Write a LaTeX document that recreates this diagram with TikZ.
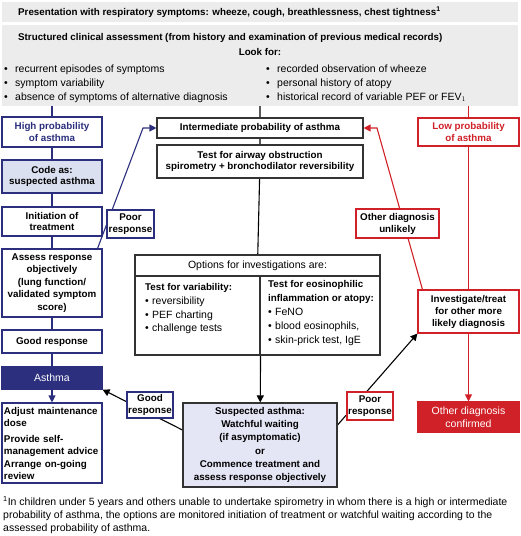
\documentclass[tikz,border=0pt]{standalone}
\usepackage{fontspec}
\setmainfont{Liberation Sans}
\usetikzlibrary{arrows.meta,backgrounds}

\definecolor{navy}{RGB}{43,47,125}
\definecolor{alarm}{RGB}{208,33,40}
\definecolor{bandgray}{RGB}{236,236,236}
\definecolor{codefill}{RGB}{219,224,240}
\definecolor{suspfill}{RGB}{228,229,245}

\newcommand*{\bul}{\makebox[11pt][l]{\textbullet}}
\newcommand*{\sbul}{\makebox[7pt][l]{\textbullet}}
\newcommand*{\hd}[1]{{\fontsize{9.8}{13.5}\selectfont\bfseries #1}}

\begin{document}
\begin{tikzpicture}
[
	x=1pt,
	y=-1pt,
	font=\fontsize{10.5}{13.5}\selectfont,
	band/.style={fill=bandgray,inner sep=0pt},
	txt/.style={inner sep=0pt,align=left},
	bold/.style={font=\fontsize{9.8}{#1}\selectfont\bfseries},
	bold/.default=11.5,
	box/.style={draw,line width=1.1pt,fill=white,align=center,inner sep=1pt,bold},
	bluebox/.style={box,draw=navy},
	redbox/.style={box,draw=alarm},
	blackbox/.style={box,draw=black!80},
	link/.style={line width=1.1pt},
	tip/.style={-{Triangle[length=7pt,width=7pt]}},
]
	\useasboundingbox (0,0) rectangle (520,536);

	% top bands
	\node[band,minimum width=516pt,minimum height=20pt] (present) at (260,12) {};
	\node[txt,anchor=west,bold] (presenttext) at (18,12)
	  {Presentation with respiratory symptoms: wheeze, cough, breathlessness, chest tightness\textsuperscript{1}};

	\node[band,minimum width=516pt,minimum height=81pt] (assess) at (260,65.5) {};
	\node[txt,anchor=west,bold] (assesstext) at (18,38)
	  {Structured clinical assessment (from history and examination of previous medical records)};
	\node[txt,bold] (lookfor) at (260,52) {Look for:};
	\node[txt,anchor=north west,font=\fontsize{10.5}{14}\selectfont] (lookleft) at (4,64.5)
	  {\bul recurrent episodes of symptoms\\
	   \bul symptom variability\\
	   \bul absence of symptoms of alternative diagnosis};
	\node[txt,anchor=north west,font=\fontsize{10.5}{14}\selectfont] (lookright) at (266,64.5)
	  {\bul recorded observation of wheeze\\
	   \bul personal history of atopy\\
	   \bul historical record of variable PEF or FEV$_1$};

	% left column: high probability
	\node[bluebox,text=navy,minimum width=100pt,minimum height=30pt] (high) at (52,132) {High probability\\of asthma};
	\node[bluebox,fill=codefill,minimum width=100pt,minimum height=33pt] (code) at (52,176.5) {Code as:\\suspected asthma};
	\node[bluebox,minimum width=100pt,minimum height=29pt] (init) at (52,221.5) {Initiation of\\treatment};
	\node[bluebox,minimum width=100pt,minimum height=68pt,bold=12.5] (assessresp) at (52,283)
	  {Assess response\\objectively\\(lung function/\\validated symptom\\score)};
	\node[bluebox,minimum width=100pt,minimum height=23pt] (good) at (52,341.5) {Good response};
	\node[bluebox,fill=navy,text=white,minimum width=100pt,minimum height=22pt,font=\fontsize{10.5}{12}\selectfont] (asthma) at (52,378) {Asthma};
	\node[bluebox,align=left,text width=96pt,inner xsep=2pt,minimum height=80pt,bold=12] (adjust) at (52,443)
	  {Adjust maintenance\\dose\\[4pt]Provide self-\\management advice\\[1pt]Arrange on-going\\review};
	\node[bluebox,minimum width=47pt,minimum height=28pt,bold=12] (poorL) at (130.5,224) {Poor\\response};

	% centre column: intermediate probability
	\node[blackbox,minimum width=206pt,minimum height=20pt] (inter) at (260,128) {Intermediate probability of asthma};
	\node[blackbox,minimum width=206pt,minimum height=33pt] (airway) at (260,161.5)
	  {Test for airway obstruction\\spirometry + bronchodilator reversibility};
	\node[blackbox,minimum width=245pt,minimum height=21pt,font=\fontsize{10.5}{12}\selectfont] (opthead) at (257.5,265.5) {Options for investigations are:};
	\node[blackbox,minimum width=125pt,minimum height=79pt] (optleft) at (197.5,315.5) {};
	\node[blackbox,minimum width=120pt,minimum height=79pt] (optright) at (320,315.5) {};
	\node[txt,anchor=north west] (vartext) at (145,283)
	  {\hd{Test for variability:}\\[1pt]
	   \sbul reversibility\\
	   \sbul PEF charting\\
	   \sbul challenge tests};
	\node[txt,anchor=north west,font=\fontsize{10.5}{14}\selectfont] (eostext) at (268,280)
	  {\hd{Test for eosinophilic}\\
	   \hd{inflammation or atopy:}\\
	   \sbul FeNO\\
	   \sbul blood eosinophils,\\
	   \sbul skin-prick test, IgE};
	\node[blackbox,fill=suspfill,minimum width=154pt,minimum height=84pt,bold=13.2] (susp) at (260,445)
	  {Suspected asthma:\\Watchful waiting\\(if asymptomatic)\\or\\Commence treatment and\\assess response objectively};
	\node[bluebox,minimum width=46pt,minimum height=26pt,bold=12] (goodB) at (150,405) {Good\\response};
	\node[redbox,minimum width=46pt,minimum height=28pt,bold=12] (poorR) at (370,406) {Poor\\response};

	% right column: low probability
	\node[redbox,text=alarm,minimum width=101pt,minimum height=28pt] (low) at (468.5,132) {Low probability\\of asthma};
	\node[redbox,minimum width=101pt,minimum height=43pt,bold=12] (invest) at (468.5,311.5)
	  {Investigate/treat\\for other more\\likely diagnosis};
	\node[redbox,fill=alarm,text=white,minimum width=101pt,minimum height=30pt,font=\fontsize{10.5}{12.5}\selectfont] (confirmed) at (468.5,417)
	  {Other diagnosis\\confirmed};
	\node[redbox,minimum width=83pt,minimum height=29pt,bold=12] (unlikely) at (397.5,223.5)
	  {Other diagnosis\\unlikely};

	% footnote
	\node[txt,anchor=north west,font=\fontsize{10.5}{12.8}\selectfont] (footnote) at (3,496.5)
	  {\textsuperscript{1}In children under 5 years and others unable to undertake spirometry in whom there is a high or intermediate\\
	   probability of asthma, the options are monitored initiation of treatment or watchful waiting according to the\\
	   assessed probability of asthma.};

	% connectors
	\coordinate (poorbend) at (143,128);
	\coordinate (unlikelybend) at (377,128);
	\begin{pgfonlayer}{background}
		\draw[link,navy] (high |- assess.south) -- (high) -- (code) -- (init) -- (assessresp) -- (good) -- (asthma);
		\draw[link,navy,tip] (asthma) -- (adjust);
		\draw[link] (inter |- assess.south) -- (inter) -- (airway) -- (opthead);
		\draw[link,tip] (optleft.south east) -- (susp);
		\draw[link,alarm] (low |- assess.south) -- (low) -- (invest);
		\draw[link,alarm,tip] (invest) -- (confirmed);
		\draw[link,navy,tip] ([xshift=-5pt]assessresp.north east) -- (poorbend) -- (inter.west);
		\draw[link,alarm,tip] ([xshift=5pt]invest.north west) -- (unlikelybend) -- (inter.east);
		\draw[link,tip] ([yshift=15pt]susp.west) -- (asthma.south east);
		\draw[link,tip] ([yshift=20pt]susp.east) -- (invest.south west);
	\end{pgfonlayer}

\end{tikzpicture}
\end{document}
